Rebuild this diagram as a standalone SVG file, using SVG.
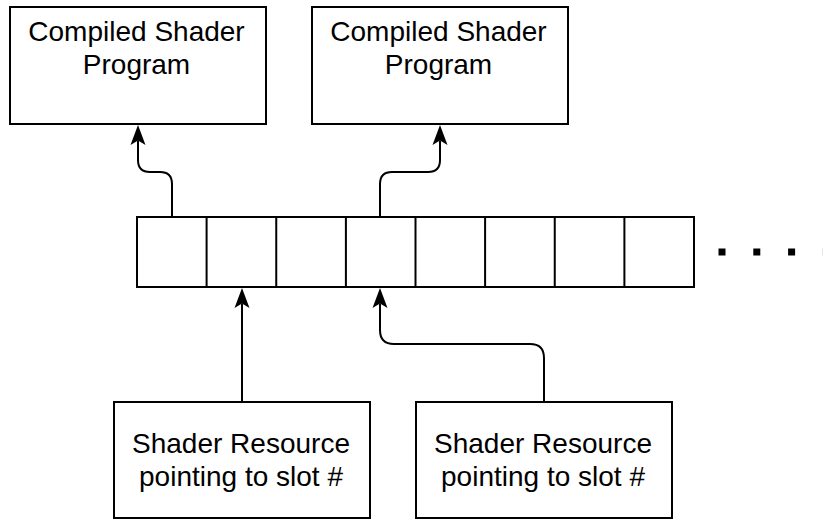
<svg xmlns="http://www.w3.org/2000/svg" width="823" height="519" viewBox="0 0 823 519">
  <style>
    .box { fill: #ffffff; stroke: #000000; stroke-width: 2; }
    .cell { fill: none; stroke: #000000; stroke-width: 2; }
    .label { font-family: "Liberation Sans", Arial, Helvetica, sans-serif; font-size: 28px; fill: #000000; text-anchor: middle; }
    .edge { fill: none; stroke: #000000; stroke-width: 2; marker-end: url(#arrow); }
    .dots { fill: none; stroke: #000000; stroke-width: 7; stroke-dasharray: 7 27.8; }
  </style>
  <defs>
    <!-- classic notched arrowhead; the path ends at the notch, tip lies 15.5px beyond -->
    <marker id="arrow" markerUnits="userSpaceOnUse" markerWidth="22" markerHeight="20" viewBox="0 -10 22 20" refX="4.5" refY="0" orient="auto">
      <path d="M20,0 L0,-7.5 L4.5,0 L0,7.5 Z" fill="#000000"/>
    </marker>
  </defs>

  <rect width="823" height="519" fill="#ffffff"/>

  <!-- compiled programs -->
  <g id="program-1">
    <rect class="box" x="10" y="7" width="256" height="117"/>
    <text class="label" x="136.5" y="41">Compiled Shader</text>
    <text class="label" x="136.5" y="74">Program</text>
  </g>
  <g id="program-2">
    <rect class="box" x="312" y="7" width="256" height="117"/>
    <text class="label" x="438.5" y="41">Compiled Shader</text>
    <text class="label" x="438.5" y="74">Program</text>
  </g>

  <!-- slot table -->
  <g id="slot-table">
    <rect class="cell" x="137" y="217" width="557" height="70"/>
    <path class="cell" d="M206.6 217V287 M276.25 217V287 M345.9 217V287 M415.5 217V287 M485.1 217V287 M554.75 217V287 M624.4 217V287"/>
    <line class="dots" x1="718.5" y1="252" x2="830" y2="252"/>
  </g>

  <!-- shader resources -->
  <g id="resource-1">
    <rect class="box" x="114" y="402" width="256" height="116"/>
    <text class="label" x="241" y="453">Shader Resource</text>
    <text class="label" x="241" y="486">pointing to slot #</text>
  </g>
  <g id="resource-2">
    <rect class="box" x="416" y="402" width="256" height="116"/>
    <text class="label" x="543" y="453">Shader Resource</text>
    <text class="label" x="543" y="486">pointing to slot #</text>
  </g>

  <!-- connectors -->
  <g id="connectors">
    <path class="edge" d="M172 217 V184 Q172 172 160 172 H150 Q138 172 138 160 V140.5"/>
    <path class="edge" d="M380 217 V184 Q380 172 392 172 H428 Q440 172 440 160 V140.5"/>
    <path class="edge" d="M242 402 V303.5"/>
    <path class="edge" d="M544 402 V358 Q544 344 530 344 H394 Q380 344 380 330 V303.5"/>
  </g>
</svg>
